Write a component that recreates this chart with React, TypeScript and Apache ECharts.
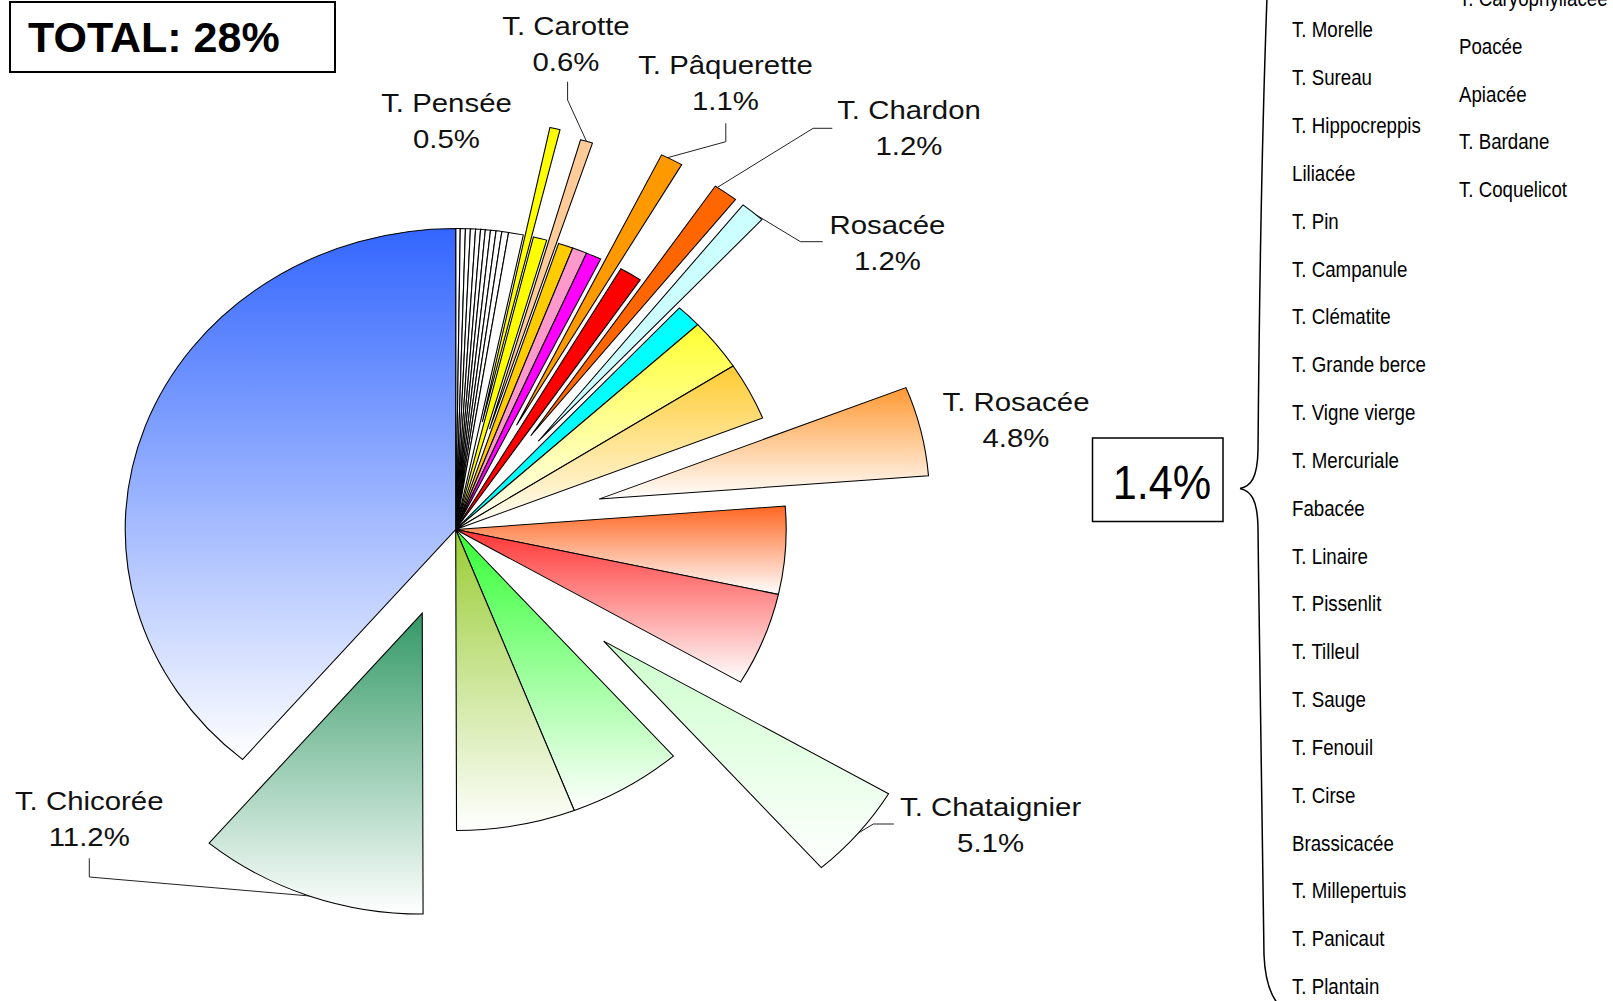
import React, { useEffect, useRef } from "react";
import * as echarts from "echarts";

// ---------- DATA (percent of the pie, clockwise from 12 o'clock) ----------
const sliceNames: string[] = [
  "", "", "", "", "", "", "", "", "", "", "",
  "T. Pensée", "", "T. Carotte", "", "", "",
  "T. Pâquerette", "", "T. Chardon", "Rosacée", "",
  "", "", "T. Rosacée", "", "", "T. Chataignier",
  "", "", "T. Chicorée", "",
];
const sliceValues: number[] = [
  0.22, 0.25, 0.24, 0.25, 0.24, 0.23, 0.25, 0.27, 0.28, 0.33, 0.72,
  0.5, 0.66, 0.6, 0.72, 0.72, 0.75,
  1.1, 1.1, 1.2, 1.2, 1.25,
  2.78, 3.1, 4.8, 4.7, 5.0, 5.1,
  5.6, 5.8, 11.2, 38.84,
];
const sliceColors: string[] = [
  "#ffffff", "#ffffff", "#ffffff", "#ffffff", "#ffffff", "#ffffff", "#ffffff", "#ffffff", "#ffffff", "#ffffff", "#ffffff",
  "#ffff00", "#ffff00", "#ffcc99", "#ffcc00", "#ff99cc", "#ff00ff",
  "#ff9900", "#ff0000", "#ff6600", "#ccffff", "#00ffff",
  "#ffff33", "#ffcc33", "#ff9933", "#ff6622", "#ff3333", "#ccffcc",
  "#33ff33", "#99cc33", "#339966", "#3366ff",
];
const sliceGradient: boolean[] = [
  false, false, false, false, false, false, false, false, false, false, false,
  false, false, false, false, false, false,
  false, false, false, false, false,
  true, true, true, true, true, true,
  true, true, true, true,
];

const totalLabel = "TOTAL: 28%";
const groupLabel = "1.4%";
const groupListCol1: string[] = [
  "T. Morelle", "T. Sureau", "T. Hippocreppis", "Liliacée", "T. Pin",
  "T. Campanule", "T. Clématite", "T. Grande berce", "T. Vigne vierge",
  "T. Mercuriale", "Fabacée", "T. Linaire", "T. Pissenlit", "T. Tilleul",
  "T. Sauge", "T. Fenouil", "T. Cirse", "Brassicacée", "T. Millepertuis",
  "T. Panicaut", "T. Plantain",
];
const groupListCol2: string[] = [
  "T. Caryophyllacée", "Poacée", "Apiacée", "T. Bardane", "T. Coquelicot",
];

// ---------- LAYOUT / STYLE ----------
const CX = 455.7;
const CY = 529.5;
const R = 301;
const SX = 1.098; // horizontal stretch of the pie
const sliceExplode: Record<string, number> = {
  "T. Pensée": 110,
  "T. Carotte": 105,
  "T. Pâquerette": 118,
  "T. Chardon": 116,
  "Rosacée": 116,
  "T. Rosacée": 134,
  "T. Chataignier": 175,
  "T. Chicorée": 89,
};
const labelLayout: Record<string, { pos: [number, number]; leader?: [number, number][]; f?: number }> = {
  "T. Pensée": { pos: [446.5, 121.5] },
  "T. Carotte": { pos: [566, 43.7], leader: [[567.6, 81.7], [567.6, 100]], f: 0.5 },
  "T. Pâquerette": { pos: [725.5, 83.3], leader: [[725.8, 123.3], [725.8, 141.7]], f: 0.3 },
  "T. Chardon": { pos: [909, 128.5], leader: [[832.3, 128.3], [813.1, 128.3]], f: 0.1 },
  "Rosacée": { pos: [887.4, 243.3], leader: [[822.7, 241.7], [800.4, 241.7]], f: 0.7 },
  "T. Rosacée": { pos: [1016, 420] },
  "T. Chataignier": { pos: [990.6, 825], leader: [[893.9, 824], [873.3, 824]], f: 0.5 },
  "T. Chicorée": { pos: [89.2, 819.5], leader: [[89.3, 858.3], [89.3, 877]], f: 0.5 },
};
const labelFont = '26px "Liberation Sans", Arial, sans-serif';
const listFont = '22px "Liberation Sans", Arial, sans-serif';

export default function App() {
  const ref = useRef<HTMLDivElement>(null);

  useEffect(() => {
    if (!ref.current) return;
    const chart = echarts.init(ref.current, null, { renderer: "svg" });

    const total = sliceValues.reduce((a, b) => a + b, 0);
    const starts: number[] = [];
    let acc = 0;
    sliceValues.forEach((v) => {
      starts.push(acc);
      acc += v;
    });
    const TAU = Math.PI * 2;

    const renderItem = (params: any, api: any) => {
      const i = params.dataIndex;
      const v = api.value(0) as number;
      const a0 = (starts[i] / total) * TAU;
      const a1 = a0 + (v / total) * TAU;
      const mid = (a0 + a1) / 2;
      const name = sliceNames[i];
      const d = (name && sliceExplode[name]) || 0;
      const ox = d * Math.sin(mid) * SX;
      const oy = -d * Math.cos(mid);
      const fill = sliceGradient[i]
        ? {
            type: "linear",
            x: 0,
            y: 0,
            x2: 0,
            y2: 1,
            colorStops: [
              { offset: 0, color: sliceColors[i] },
              { offset: 1, color: "#ffffff" },
            ],
          }
        : sliceColors[i];
      const children: any[] = [
        {
          type: "sector",
          x: CX + ox,
          y: CY + oy,
          scaleX: SX,
          shape: {
            cx: 0,
            cy: 0,
            r: R,
            r0: 0,
            startAngle: a0 - Math.PI / 2,
            endAngle: a1 - Math.PI / 2,
            clockwise: true,
          },
          style: { fill, stroke: "#000", lineWidth: 1, strokeNoScale: true },
        },
      ];
      const lay = name ? labelLayout[name] : undefined;
      if (lay) {
        children.push({
          type: "text",
          x: lay.pos[0],
          y: lay.pos[1],
          scaleX: 1.13,
          z2: 10,
          style: {
            text: name + "\n" + v.toFixed(1) + "%",
            font: labelFont,
            fill: "#111",
            textAlign: "center",
            textVerticalAlign: "middle",
            lineHeight: 36,
          },
        });
        if (lay.leader) {
          const a = a0 + (lay.f ?? 0.5) * (a1 - a0);
          const end = [CX + ox + R * Math.sin(a) * SX, CY + oy - R * Math.cos(a)];
          children.push({
            type: "polyline",
            z2: 9,
            shape: { points: [...lay.leader, end] },
            style: { stroke: "#222", lineWidth: 1, fill: null },
          });
        }
      }
      return { type: "group", children };
    };

    const graphics: any[] = [
      {
        type: "rect",
        shape: { x: 10, y: 2, width: 325, height: 70 },
        style: { fill: "#fff", stroke: "#000", lineWidth: 2 },
      },
      {
        type: "text",
        x: 28,
        y: 37,
        style: {
          text: totalLabel,
          font: 'bold 43px "Liberation Sans", Arial, sans-serif',
          fill: "#000",
          textAlign: "left",
          textVerticalAlign: "middle",
        },
      },
      {
        type: "rect",
        shape: { x: 1092.5, y: 438, width: 130.5, height: 83.6 },
        style: { fill: "#fff", stroke: "#000", lineWidth: 1.5 },
      },
      {
        type: "text",
        x: 1162,
        y: 483,
        scaleX: 0.9,
        style: {
          text: groupLabel,
          font: '48px "Liberation Sans", Arial, sans-serif',
          fill: "#000",
          textAlign: "center",
          textVerticalAlign: "middle",
        },
      },
      // curly brace
      {
        type: "bezierCurve",
        shape: { x1: 1267, y1: -3, cpx1: 1261, cpy1: 160, cpx2: 1259, cpy2: 330, x2: 1258, y2: 450 },
        style: { stroke: "#000", lineWidth: 1.5, fill: null },
      },
      {
        type: "bezierCurve",
        shape: { x1: 1258, y1: 450, cpx1: 1257.5, cpy1: 478, cpx2: 1251, cpy2: 486, x2: 1240, y2: 488.5 },
        style: { stroke: "#000", lineWidth: 1.5, fill: null },
      },
      {
        type: "bezierCurve",
        shape: { x1: 1240, y1: 488.5, cpx1: 1251, cpy1: 491, cpx2: 1257.5, cpy2: 499, x2: 1258, y2: 528 },
        style: { stroke: "#000", lineWidth: 1.5, fill: null },
      },
      {
        type: "bezierCurve",
        shape: { x1: 1258, y1: 528, cpx1: 1260, cpy1: 700, cpx2: 1262, cpy2: 880, x2: 1264, y2: 955 },
        style: { stroke: "#000", lineWidth: 1.5, fill: null },
      },
      {
        type: "bezierCurve",
        shape: { x1: 1264, y1: 955, cpx1: 1265, cpy1: 980, cpx2: 1270, cpy2: 994, x2: 1278, y2: 1004 },
        style: { stroke: "#000", lineWidth: 1.5, fill: null },
      },
    ];
    groupListCol1.forEach((t, k) => {
      graphics.push({
        type: "text",
        x: 1292,
        y: 29.8 + k * 47.84,
        scaleX: 0.85,
        style: { text: t, font: listFont, fill: "#000", textAlign: "left", textVerticalAlign: "middle" },
      });
    });
    groupListCol2.forEach((t, k) => {
      graphics.push({
        type: "text",
        x: 1459,
        y: -1.5 + k * 47.8,
        scaleX: 0.85,
        style: { text: t, font: listFont, fill: "#000", textAlign: "left", textVerticalAlign: "middle" },
      });
    });

    chart.setOption({
      animation: false,
      backgroundColor: "#ffffff",
      series: [
        {
          type: "custom",
          coordinateSystem: "none",
          animation: false,
          silent: true,
          data: sliceValues.map((v, i) => ({ name: sliceNames[i], value: [v] })),
          renderItem,
        },
      ],
      graphic: { elements: graphics },
    });

    return () => {
      chart.dispose();
    };
  }, []);

  return (
    <div
      ref={ref}
      style={{ position: "fixed", left: 0, top: 0, width: 1613, height: 1001 }}
    />
  );
}
